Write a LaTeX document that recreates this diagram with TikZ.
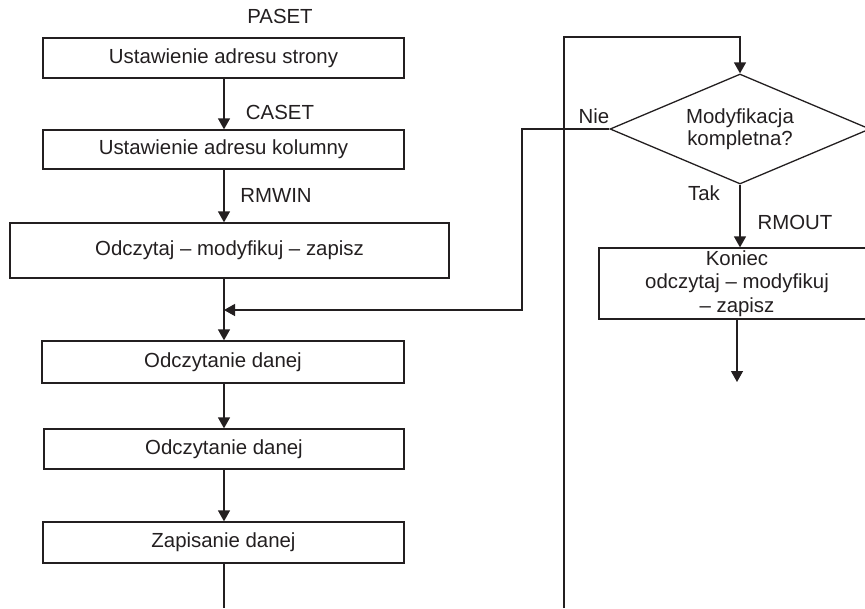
\documentclass[tikz,border=0pt]{standalone}
\usepackage{fontspec}
\setmainfont{Liberation Sans}
\usetikzlibrary{arrows.meta,shapes.geometric}
\definecolor{ink}{HTML}{231F20}
\begin{document}
\begin{tikzpicture}[x=1pt,y=-1pt,
  every node/.style={font=\fontsize{20.4}{23.5}\selectfont, text=ink},
  box/.style={draw=ink, line width=1.3pt, rectangle, inner sep=0pt, align=center},
  dec/.style={draw=ink, line width=1.3pt, diamond, aspect=2.36, inner sep=0pt, align=center,
              font=\fontsize{20.4}{21.5}\selectfont},
  lbl/.style={inner sep=0pt},
  conn/.style={draw=ink, line width=1.3pt},
  arr/.style={conn, -{Triangle[length=11pt,width=12pt]}}
]
\useasboundingbox (0,0) rectangle (865,608);
\clip (0,0) rectangle (865,608);

% main column boxes
\node[box, minimum width=361pt, minimum height=40pt] (b1) at (223.5,58) {Ustawienie adresu strony};
\node[box, minimum width=361pt, minimum height=39pt] (b2) at (223.5,149.5) {Ustawienie adresu kolumny};
\node[box, minimum width=439pt, minimum height=55pt] (b3) at (229.5,250.5) {Odczytaj – modyfikuj – zapisz};
\node[box, minimum width=362pt, minimum height=42pt] (b4) at (223,362) {Odczytanie danej};
\node[box, minimum width=360pt, minimum height=40pt] (b5) at (224,449) {Odczytanie danej};
\node[box, minimum width=361pt, minimum height=41pt] (b6) at (223.5,542.5) {Zapisanie danej};

% right side
\node[dec, minimum width=260pt, minimum height=110pt] (d) at (740,129) {Modyfikacja\\kompletna?};
\node[box, minimum width=276pt, minimum height=71pt] (r) at (737,283.5) {Koniec\\odczytaj – modyfikuj\\– zapisz};

% labels
\node[lbl] (lpaset) at (280,16) {PASET};
\node[lbl] (lcaset) at (280,112) {CASET};
\node[lbl] (lrmwin) at (276,195) {RMWIN};
\node[lbl] (lnie) at (594,116) {Nie};
\node[lbl] (ltak) at (704,193) {Tak};
\node[lbl] (lrmout) at (795,222) {RMOUT};

% helper coordinates
\coordinate (m) at (224,310);
\coordinate (nc) at (522,310);
\coordinate (b6end) at (224,608);
\coordinate (loopbot) at (564,608);
\coordinate (looptop) at (564,37);
\coordinate (rend) at (737,382);

% connectors
\draw[arr] (b1.south -| m) -- (b2.north -| m);
\draw[arr] (b2.south -| m) -- (b3.north -| m);
\draw[conn] (b3.south -| m) -- (m);
\draw[arr] (m) -- (b4.north -| m);
\draw[arr] (b4.south -| m) -- (b5.north -| m);
\draw[arr] (b5.south -| m) -- (b6.north -| m);
\draw[conn] (b6.south -| m) -- (b6end);
\draw[arr] (d.west) -| (nc) -- (m);
\draw[arr] (loopbot) -- (looptop) -| (d.north);
\draw[arr] (d.south) -- (d.south |- r.north);
\draw[arr] (r.south -| rend) -- (rend);
\end{tikzpicture}
\end{document}
